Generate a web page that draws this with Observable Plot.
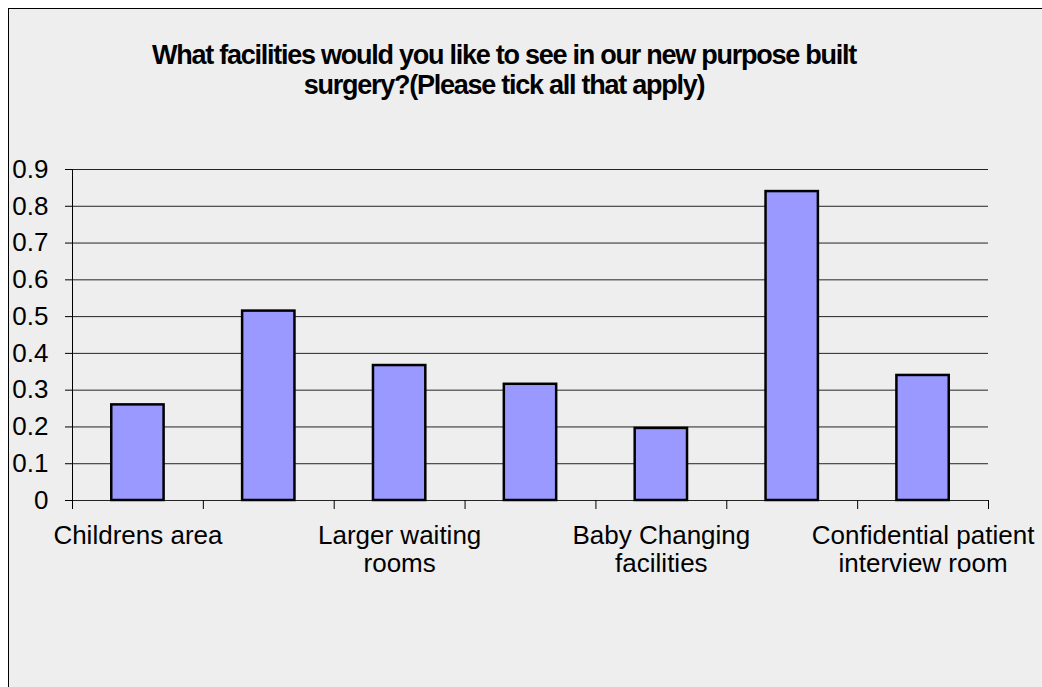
<!DOCTYPE html>
<html>
<head>
<meta charset="utf-8">
<script src="https://cdn.jsdelivr.net/npm/d3@7"></script>
<script src="https://cdn.jsdelivr.net/npm/@observablehq/plot@0.6"></script>
<style>
  html, body { margin: 0; padding: 0; width: 1042px; height: 687px; overflow: hidden; background: #fff; }
  #frame { position: absolute; left: 8px; top: 8px; width: 1100px; height: 800px; background: #eeeeee; border: 1px solid #000; }
  #title { position: absolute; left: 0; top: 40px; width: 1008px; text-align: center;
    font-family: "Liberation Sans", Arial, sans-serif; font-weight: bold; font-size: 27px; line-height: 30px;
    letter-spacing: -1.25px; color: #000; }
  #chart { position: absolute; left: 0; top: 130px; }
</style>
</head>
<body>
<div id="frame"></div>
<div id="title">What facilities would you like to see in our new purpose built<br>surgery?(Please tick all that apply)</div>
<div id="chart"></div>
<script>
// Categories (only every other label is displayed in the original chart)
const categories = [
  "Childrens area",
  "(unlabelled 2)",
  "Larger waiting rooms",
  "(unlabelled 4)",
  "Baby Changing facilities",
  "(unlabelled 6)",
  "Confidential patient interview room"
];
const tickLabels = [
  "Childrens area",
  "",
  "Larger waiting\nrooms",
  "",
  "Baby Changing\nfacilities",
  "",
  "Confidential patient\ninterview room"
];
const values = [0.26, 0.515, 0.367, 0.316, 0.196, 0.84, 0.34];
const yTicks = [0, 0.1, 0.2, 0.3, 0.4, 0.5, 0.6, 0.7, 0.8, 0.9];

const data = categories.map((c, i) => ({category: c, index: i, value: values[i], label: tickLabels[i]}));
const boundaries = d3.range(categories.length + 1);

const chart = Plot.plot({
  width: 1042,
  height: 460,
  marginLeft: 72,
  marginRight: 54,
  marginTop: 39,
  marginBottom: 90,
  style: {background: "transparent", color: "#000", fontFamily: "'Liberation Sans', Arial, sans-serif", overflow: "visible"},
  x: {type: "linear", domain: [0, categories.length], axis: null},
  y: {domain: [0, 0.9], axis: null},
  marks: [
    Plot.ruleY(yTicks, {stroke: "#000", strokeWidth: 1, strokeOpacity: 0.85}),
    Plot.ruleX([0], {y1: 0, y2: 0.9, stroke: "#000"}),
    Plot.axisY({ticks: yTicks, tickSize: 7, tickPadding: 17, fontSize: 26, tickFormat: d => String(+d.toFixed(1)), label: null, stroke: "#000"}),
    Plot.axisX({ticks: boundaries, tickSize: 9, tickFormat: () => "", label: null, stroke: "#000"}),
    Plot.rectY(data, {x1: d => d.index + 0.3, x2: d => d.index + 0.7, y: "value", fill: "#9999ff", stroke: "#000", strokeWidth: 2.5}),
    Plot.text(data, {x: d => d.index + 0.5, y: () => 0, text: "label", lineAnchor: "top", dy: 23.5, fontSize: 26, lineHeight: 1.08, fill: "#000"})
  ]
});
document.getElementById("chart").appendChild(chart);
</script>
</body>
</html>
